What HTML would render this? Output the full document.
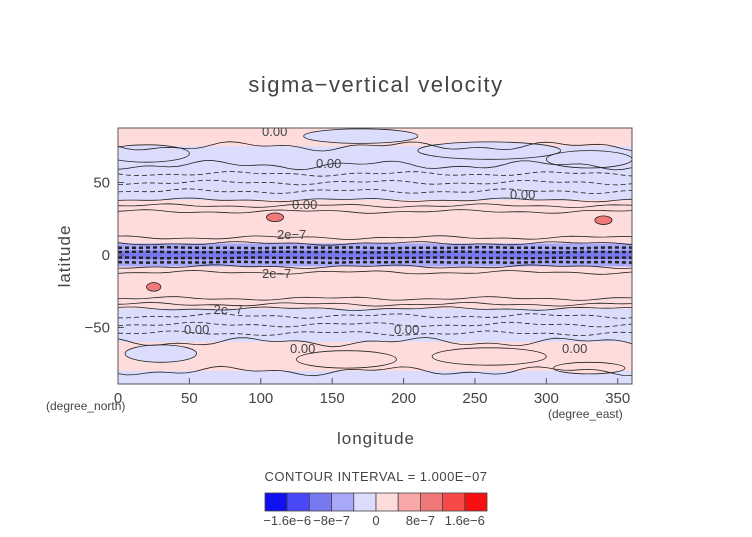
<!DOCTYPE html>
<html><head><meta charset="utf-8"><style>
body{margin:0;background:#fff;}
svg text{font-family:"Liberation Sans",sans-serif;fill:#444;}
</style></head><body>
<svg id="c" width="752" height="532" viewBox="0 0 752 532">
<text x="376" y="92" font-size="22" text-anchor="middle" letter-spacing="1.5">sigma−vertical velocity</text>
<g id="plot"></g>
<text x="376" y="444" font-size="17" text-anchor="middle" letter-spacing="1">longitude</text>
<text x="70" y="256" font-size="17" text-anchor="middle" transform="rotate(-90 70 256)" letter-spacing="1">latitude</text>
<text x="46" y="410" font-size="12" font-family="Liberation Mono">(degree_north)</text>
<text x="548" y="418" font-size="12" font-family="Liberation Mono">(degree_east)</text>
<text x="376" y="481" font-size="13" text-anchor="middle" letter-spacing="0.5">CONTOUR INTERVAL = 1.000E−07</text>
<g id="cbar"></g>
</svg>
<script>
const xTicks=[0,50,100,150,200,250,300,350];
const yTicks=[50,0,-50];
// zonal bands: [latTop, latBottom, colorIndex]
const bandTop=[90,75,62,38,8,3,-3,-8,-37,-60,-80];
const bandBot=[75,62,38,8,3,-3,-8,-37,-60,-80,-90];
const bandCls=[5,4,4,5,3,2,3,5,4,5,4];
// blobs: lon, lat, lonWidth, latHeight, class
const blobLon=[20,170,260,330,110,340,25,30,160,260,330];
const blobLat=[70,82,72,66,26,24,-22,-68,-72,-70,-78];
const blobW=[30,40,50,30,6,6,5,25,35,40,25];
const blobH=[6,5,6,6,3,3,3,6,6,6,4];
const blobCls=[4,4,4,4,7,7,7,4,5,5,5];
// contour line latitudes
const solidLats=[75,62,38,34,30,12,8,-8,-12,-30,-34,-37,-60,-80];
const dashLats=[56,50,44,5,2,-2,-5,-42,-48,-54];
const cbColors=["#1010f0","#4848f8","#7878f0","#a8a8f8","#dcdcfc","#ffdcdc","#f8a8a8","#f07878","#f84848","#f81010"];
const cbLabels=["−1.6e−6","−8e−7","0","8e−7","1.6e−6"];
const cbLabelPos=[1,3,5,7,9];

const NS="http://www.w3.org/2000/svg";
const L=118,R=632,T=128,B=384;
const xs=v=>L+(R-L)*v/360;
const ys=v=>255-1.45*v;
function mk(t,a,p){const e=document.createElementNS(NS,t);for(const k in a)e.setAttribute(k,a[k]);p.appendChild(e);return e;}
const plot=document.getElementById('plot');
mk('rect',{x:L,y:T,width:R-L,height:B-T,fill:cbColors[5]},plot);
const clip=mk('clipPath',{id:'cp'},plot);mk('rect',{x:L,y:T,width:R-L,height:B-T},clip);
const g=mk('g',{'clip-path':'url(#cp)'},plot);
function wavy(lat,amp,ph){let d='';for(let lo=0;lo<=360;lo+=6){const y=ys(lat)+amp*Math.sin(lo/18+ph)+amp*0.6*Math.sin(lo/7+ph*2);d+=(lo?'L':'M')+xs(lo).toFixed(1)+','+y.toFixed(1);}return d;}
bandTop.forEach((t,i)=>{
  const r=mk('rect',{x:L,y:ys(t),width:R-L,height:ys(bandBot[i])-ys(t),fill:cbColors[bandCls[i]]},g);
  
  
});
blobLon.forEach((lo,i)=>{
  const e=mk('ellipse',{cx:xs(lo),cy:ys(blobLat[i]),rx:(R-L)*blobW[i]/360,ry:1.45*blobH[i],fill:cbColors[blobCls[i]],stroke:'#222','stroke-width':0.8},g);
  
  
});
solidLats.forEach((lat,i)=>{
  const p=mk('path',{d:wavy(lat,Math.abs(lat)>55?3:1.2,i),fill:'none',stroke:'#222','stroke-width':0.8},g);
  
  
});
dashLats.forEach((lat,i)=>{
  const eq=Math.abs(lat)<6;
  const p=mk('path',{d:wavy(lat,eq?0.3:1.5,i),fill:'none',stroke:'#222','stroke-width':eq?2.5:0.8,'stroke-dasharray':eq?'4,3':'5,3'},g);
  
  
});
[["0.00",262,136],["0.00",316,168],["0.00",510,199],["0.00",292,209],["2e−7",277,239],["2e−7",262,278],["−2e−7",206,314],["0.00",184,334],["0.00",394,334],["0.00",290,353],["0.00",562,353]].forEach(a=>{
  const t=mk('text',{x:a[1],y:a[2],'font-size':13},g);t.textContent=a[0];
  
  
});
mk('rect',{x:L,y:T,width:R-L,height:B-T,fill:'none',stroke:'#555','stroke-width':1},plot);
xTicks.forEach(v=>{
  mk('line',{x1:xs(v),x2:xs(v),y1:B,y2:B-6,stroke:'#555'},plot);
  const t=mk('text',{x:xs(v),y:B+19,'font-size':15,'text-anchor':'middle'},plot);t.textContent=v;
  
  
});
yTicks.forEach(v=>{
  mk('line',{x1:L,x2:L+6,y1:ys(v),y2:ys(v),stroke:'#555'},plot);
  const t=mk('text',{x:L-8,y:ys(v)+5,'font-size':15,'text-anchor':'end'},plot);t.textContent=v===-50?'−50':v;
  
  
});
const cb=document.getElementById('cbar');
const cx0=265,cw=22.2,cy=493,ch=18;
cbColors.forEach((c,i)=>{
  const r=mk('rect',{x:cx0+i*cw,y:cy,width:cw,height:ch,fill:c,stroke:'#444','stroke-width':0.8},cb);
  
  
});
cbLabels.forEach((s,i)=>{
  const t=mk('text',{x:cx0+cbLabelPos[i]*cw,y:cy+ch+14,'font-size':13,'text-anchor':'middle'},cb);t.textContent=s;
  
  
});
</script>
</body></html>
